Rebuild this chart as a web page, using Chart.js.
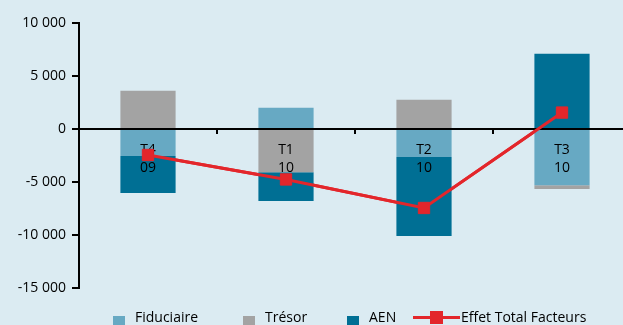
<!DOCTYPE html>
<html>
<head>
<meta charset="utf-8">
<script src="https://cdn.jsdelivr.net/npm/chart.js@4"></script>
<style>
  html, body { margin: 0; padding: 0; overflow: hidden; background: #dbebf2; }
  #wrap { position: relative; width: 623px; height: 325px; overflow: hidden; }
  #wrap canvas { position: absolute; left: 0; top: 0; }
  .leg { position: absolute; top: 310px; font: 14px "Open Sans", sans-serif; line-height: 14px; color: #000; white-space: nowrap; }
  .box { position: absolute; top: 316px; width: 12px; height: 12px; }
</style>
</head>
<body>
<div id="wrap">
  <canvas id="mixChart" width="640" height="325" style="width:640px;height:325px"></canvas>
  <div class="box" style="left:113px;background:#67a9c3"></div>
  <div class="leg" style="left:135px">Fiduciaire</div>
  <div class="box" style="left:243px;background:#a3a3a3"></div>
  <div class="leg" style="left:265px">Trésor</div>
  <div class="box" style="left:347px;background:#006f94"></div>
  <div class="leg" style="left:369px">AEN</div>
  <div style="position:absolute;left:413px;top:316px;width:47px;height:3px;background:#e3262b"></div>
  <div style="position:absolute;left:430px;top:311px;width:13px;height:13px;background:#e3262b"></div>
  <div class="leg" style="left:461px">Effet Total Facteurs</div>
</div>
<script>
var quarters = [['T4', '09'], ['T1', '10'], ['T2', '10'], ['T3', '10']];
var fiduciaire = [-2550, 2000, -2650, -5300];
var tresor = [3600, -4070, 2750, -350];
var aen = [-3480, -2720, -7450, 7100];
var effetTotal = [-2450, -4760, -7450, 1550];

function fmt(v) {
    var s = String(Math.abs(v)).replace(/\B(?=(\d{3})+(?!\d))/g, ' ');
    return (v < 0 ? '-' : '') + s;
}

// redraw the line on top of the x labels
var lineOnTop = {
    id: 'lineOnTop',
    afterDraw: function (chart) {
        chart.getDatasetMeta(3).controller.draw();
    }
};

var ctx = document.getElementById('mixChart').getContext('2d');
var mixChart = new Chart(ctx, {
    type: 'bar',
    data: {
        labels: quarters,
        datasets: [
            { label: 'Fiduciaire', data: fiduciaire, backgroundColor: '#67a9c3' },
            { label: 'Trésor', data: tresor, backgroundColor: '#a3a3a3' },
            { label: 'AEN', data: aen, backgroundColor: '#006f94' },
            {
                type: 'line',
                label: 'Effet Total Facteurs',
                data: effetTotal,
                borderColor: '#e3262b',
                backgroundColor: '#e3262b',
                borderWidth: 3,
                pointStyle: 'rect',
                pointRadius: 8,
                pointBorderWidth: 1,
                tension: 0
            }
        ]
    },
    options: {
        responsive: false,
        animation: false,
        layout: { padding: { top: 23, bottom: 37, left: 0, right: 5 } },
        categoryPercentage: 1,
        barPercentage: 0.4,
        plugins: {
            legend: { display: false },
            tooltip: { enabled: false }
        },
        scales: {
            x: {
                stacked: true,
                position: { y: 0 },
                grid: { drawOnChartArea: false, drawTicks: true, tickLength: 4, color: '#000', lineWidth: 2, z: 1 },
                border: { display: true, color: '#000', width: 2, z: 1 },
                ticks: {
                    z: 1,
                    padding: 8,
                    color: '#000',
                    maxRotation: 0,
                    font: { family: 'Open Sans', size: 14, lineHeight: 1.3 }
                }
            },
            y: {
                stacked: true,
                min: -15000,
                max: 10000,
                afterFit: function (scale) { scale.width = 79; },
                grid: { drawOnChartArea: false, drawTicks: true, tickLength: 7, color: '#000', lineWidth: 2 },
                border: { display: true, color: '#000', width: 2 },
                ticks: {
                    stepSize: 5000,
                    padding: 6,
                    color: '#000',
                    font: { family: 'Open Sans', size: 14 },
                    callback: function (v) { return fmt(v); }
                }
            }
        }
    },
    plugins: [lineOnTop]
});
</script>
</body>
</html>
